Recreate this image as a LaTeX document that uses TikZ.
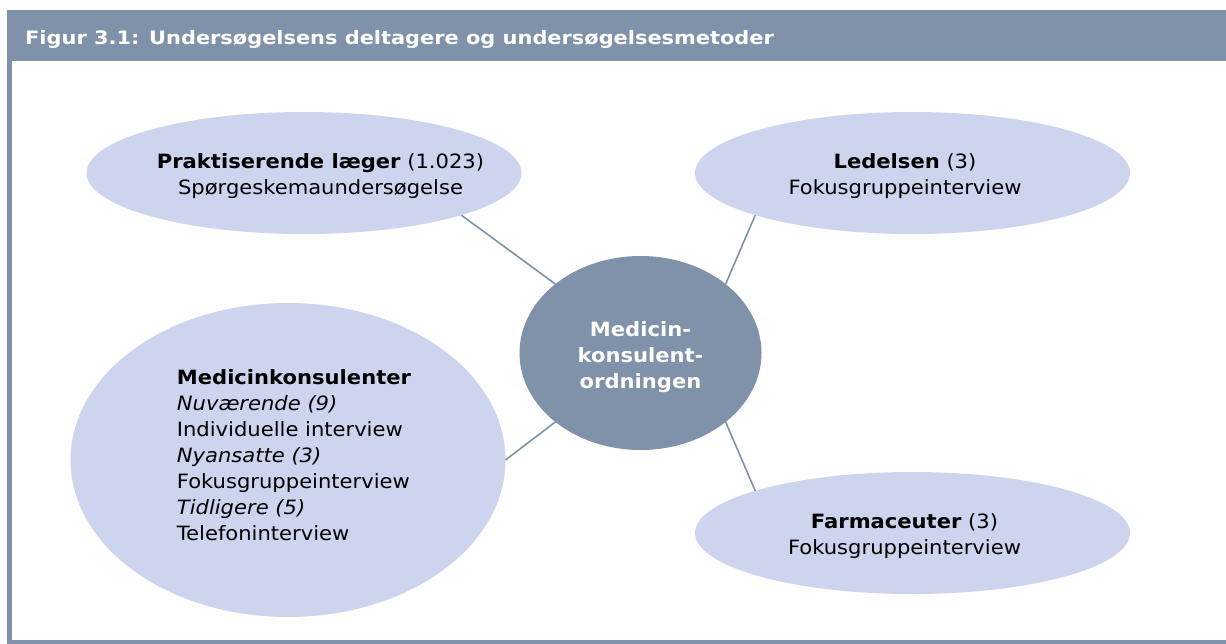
\documentclass[tikz,border=0pt]{standalone}
\usepackage{fontspec}
\setmainfont{DejaVu Sans}[FakeStretch=1.07]
\newfontfamily\headfont{DejaVu Sans}[FakeStretch=1.13]
\usetikzlibrary{shapes.geometric}
\definecolor{slate}{RGB}{127,146,170}
\definecolor{lavender}{RGB}{205,212,238}
\begin{document}
\begin{tikzpicture}[x=1pt,y=-1pt,
  bubble/.style={ellipse, fill=lavender, inner sep=0pt, outer sep=0pt,
    minimum width=435pt, minimum height=122pt},
  hub/.style={ellipse, fill=slate, inner sep=0pt, outer sep=0pt,
    minimum width=242pt, minimum height=194pt},
  link/.style={draw=slate, line width=1.6pt},
  body/.style={font=\fontsize{19.7}{26}\selectfont, text=black, inner sep=0pt},
  hubtext/.style={font=\bfseries\fontsize{19.7}{26}\selectfont, text=white,
    inner sep=0pt, align=center},
  titletext/.style={font=\headfont\bfseries\fontsize{18.5}{20}\selectfont, text=white,
    inner sep=0pt}
]
% page and frame
\fill[white] (0,0) rectangle (1226,644);
\useasboundingbox (0,0) rectangle (1226,644);
\fill[slate] (7,10) rectangle (1226,61);
\fill[slate] (7,10) rectangle (12,644);
\fill[slate] (7,639.5) rectangle (1226,644);
\node[titletext, anchor=base west] (title) at (25,44.3)
  {Figur 3.1: Undersøgelsens deltagere og undersøgelsesmetoder};

% ellipses
\node[bubble] (laeger) at (304,173) {};
\node[bubble] (ledelse) at (912.5,173) {};
\node[bubble] (farma) at (912.5,533) {};
\node[bubble, minimum height=314pt] (konsulenter) at (288,460) {};
\node[hub] (hub) at (640.5,353) {};

% connectors
\draw[link] (laeger.-15) -- (hub.141);
\draw[link] (ledelse.-165) -- (hub.39);
\draw[link] (farma.165) -- (hub.-39);
\draw[link] (konsulenter.0) -- (hub.-141);

% texts
\node[hubtext, anchor=north] (hubtxt) at (640.5,321) {Medicin-\\konsulent-\\ordningen};
\node[body, align=center, anchor=north] (laegertxt) at (320.5,153.3)
  {\textbf{Praktiserende læger} (1.023)\\Spørgeskemaundersøgelse};
\node[body, align=center, anchor=north] (ledelsetxt) at (905,153.3)
  {\textbf{Ledelsen} (3)\\Fokusgruppeinterview};
\node[body, align=center, anchor=north] (farmatxt) at (904.5,513.3)
  {\textbf{Farmaceuter} (3)\\Fokusgruppeinterview};
\node[body, align=left, anchor=north west] (konsulentertxt) at (176.7,369.3)
  {\textbf{Medicinkonsulenter}\\
   \textit{Nuværende (9)}\\
   Individuelle interview\\
   \textit{Nyansatte (3)}\\
   Fokusgruppeinterview\\
   \textit{Tidligere (5)}\\
   Telefoninterview};
\end{tikzpicture}
\end{document}
